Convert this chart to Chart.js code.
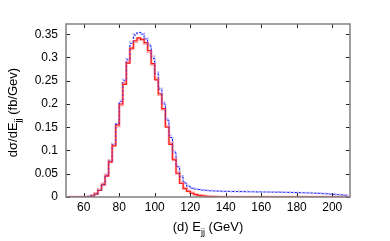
<!DOCTYPE html>
<html><head><meta charset="utf-8">
<script src="https://cdn.jsdelivr.net/npm/chart.js@4"></script>
<style>html,body{margin:0;padding:0;background:#fff}#wrap{width:390px;height:241px}</style>
</head><body><div id="wrap"><canvas id="c" width="390" height="241"></canvas></div>
<script>
const energies = [51,53,55,57,59,61,63,65,67,69,71,73,75,77,79,81,83,85,87,89,91,93,95,97,99,101,103,105,107,109,111,113,115,117,119,121,123,125,127,129,131,133,135,137,139,141,143,145,147,149,151,153,155,157,159,161,163,165,167,169,171,173,175,177,179,181,183,185,187,189,191,193,195,197,199,201,203,205,207,209];
const redSolid = [0,0,0,0,0,0,0.0005,0.002,0.006,0.014,0.026,0.045,0.075,0.11,0.155,0.2,0.242,0.288,0.32,0.336,0.342,0.339,0.332,0.315,0.287,0.252,0.222,0.19,0.15,0.113,0.08,0.05,0.029,0.018,0.012,0.008,0.005,0.0035,0.0025,0.0015,0.001,0.0007,0.0004,0,0,0,0,0,0,0,0,0,0,0,0,0,0,0,0,0,0,0,0,0,0,0,0,0,0,0,0,0,0,0,0,0,0,0,0,0];
const redLight = [0,0,0,0,0,0,0.001,0.003,0.008,0.016,0.028,0.048,0.078,0.112,0.152,0.198,0.245,0.29,0.318,0.334,0.34,0.338,0.33,0.312,0.285,0.255,0.22,0.188,0.152,0.116,0.082,0.052,0.031,0.019,0.013,0.009,0.006,0.004,0.003,0.002,0.0015,0.001,0.0006,0,0,0,0,0,0,0,0,0,0,0,0,0,0,0,0,0,0,0,0,0,0,0,0,0,0,0,0,0,0,0,0,0,0,0,0,0];
const blueDot = [0,0,0,0,0,0,0.0005,0.003,0.007,0.015,0.027,0.046,0.077,0.113,0.158,0.205,0.25,0.295,0.33,0.348,0.354,0.35,0.34,0.325,0.298,0.265,0.232,0.2,0.165,0.128,0.095,0.065,0.043,0.03,0.023,0.019,0.017,0.016,0.015,0.0142,0.0135,0.013,0.0128,0.0125,0.0122,0.012,0.012,0.0118,0.0117,0.0116,0.0115,0.0113,0.0112,0.011,0.011,0.0108,0.0107,0.0106,0.0105,0.0104,0.0103,0.0101,0.01,0.0098,0.0096,0.0094,0.0092,0.009,0.0088,0.0085,0.0082,0.0078,0.0073,0.0068,0.0062,0.0057,0.0052,0.0046,0.004,0.0033];
const blueLight = [0,0,0,0,0,0,0.001,0.003,0.008,0.016,0.029,0.048,0.079,0.115,0.16,0.207,0.252,0.297,0.333,0.35,0.352,0.352,0.342,0.328,0.302,0.268,0.236,0.204,0.168,0.132,0.098,0.068,0.045,0.032,0.024,0.02,0.018,0.016,0.0152,0.0145,0.0138,0.0133,0.013,0.0127,0.0124,0.0122,0.012,0.0119,0.0118,0.0117,0.0116,0.0114,0.0113,0.0111,0.011,0.0109,0.0108,0.0107,0.0106,0.0105,0.0104,0.0102,0.0101,0.0099,0.0097,0.0095,0.0093,0.0091,0.0089,0.0086,0.0083,0.0079,0.0074,0.0069,0.0063,0.0058,0.0053,0.0047,0.0041,0.0034];
const xTicks = [60,80,100,120,140,160,180,200];
const yTicks = [0,0.05,0.1,0.15,0.2,0.25,0.3,0.35];
const yTickLabels = ['0','0.05','0.1','0.15','0.2','0.25','0.3','0.35'];

function pts(vals){ return vals.map((v,i)=>({x:energies[i], y:v})); }

const FONT = '"Liberation Sans", Arial, sans-serif';

const framePlugin = {
  id:'frame',
  afterDatasetsDraw(chart){
    const {ctx, chartArea:a, scales:{x, y}} = chart;
    ctx.save();
    ctx.strokeStyle = '#222';
    ctx.lineWidth = 1;
    ctx.beginPath();
    xTicks.forEach(v=>{
      const px = Math.round(x.getPixelForValue(v))+0.5;
      ctx.moveTo(px, a.bottom); ctx.lineTo(px, a.bottom-4);
      ctx.moveTo(px, a.top); ctx.lineTo(px, a.top+4);
    });
    yTicks.forEach(v=>{
      const py = Math.round(y.getPixelForValue(v))+0.5;
      ctx.moveTo(a.left, py); ctx.lineTo(a.left+4, py);
      ctx.moveTo(a.right, py); ctx.lineTo(a.right-4, py);
    });
    ctx.stroke();
    ctx.strokeStyle = '#808080';
    ctx.lineWidth = 1.5;
    ctx.strokeRect(a.left, a.top, a.right-a.left, a.bottom-a.top);
    ctx.fillStyle = '#000';
    ctx.font = '13px ' + FONT;
    const cx = (a.left + a.right)/2;
    const base = 231;
    const p1 = '(d) E', sub = 'jj', p2 = ' (GeV)';
    const w1 = ctx.measureText(p1).width;
    ctx.font = '9px ' + FONT; const ws = ctx.measureText(sub).width;
    ctx.font = '13px ' + FONT; const w2 = ctx.measureText(p2).width;
    let sx = cx - (w1+ws+w2)/2;
    ctx.textBaseline = 'alphabetic'; ctx.textAlign='left';
    ctx.fillText(p1, sx, base); sx += w1;
    ctx.font = '9px ' + FONT; ctx.fillText(sub, sx, base+4); sx += ws;
    ctx.font = '13px ' + FONT; ctx.fillText(p2, sx, base);
    ctx.translate(17, (a.top+a.bottom)/2 + 2);
    ctx.rotate(-Math.PI/2);
    const q1 = 'd\u03C3/dE', q2 = ' (fb/Gev)';
    const v1 = ctx.measureText(q1).width;
    ctx.font = '9px ' + FONT; const vs = ctx.measureText(sub).width;
    ctx.font = '13px ' + FONT; const v2 = ctx.measureText(q2).width;
    let sy = -(v1+vs+v2)/2;
    ctx.fillText(q1, sy, 0); sy += v1;
    ctx.font = '9px ' + FONT; ctx.fillText(sub, sy, 4); sy += vs;
    ctx.font = '13px ' + FONT; ctx.fillText(q2, sy, 0);
    ctx.restore();
  }
};

new Chart(document.getElementById('c'), {
  type:'line',
  data:{ datasets:[
    {data:pts(redLight), borderColor:'rgba(255,70,70,0.45)', borderWidth:2.5, stepped:'middle', pointRadius:0, fill:false},
    {data:pts(blueLight), borderColor:'rgba(80,80,255,0.4)', borderWidth:2, borderDash:[2,2], stepped:'middle', pointRadius:0, fill:false},
    {data:pts(blueDot), borderColor:'#0000ff', borderWidth:1, borderDash:[2,2], stepped:'middle', pointRadius:0, fill:false},
    {data:pts(redSolid), borderColor:'#ff0000', borderWidth:1.2, stepped:'middle', pointRadius:0, fill:false}
  ]},
  options:{
    responsive:false, animation:false,
    layout:{padding:{left:0, right:40, top:24, bottom:0}},
    plugins:{legend:{display:false}, tooltip:{enabled:false}},
    scales:{
      x:{type:'linear', min:50, max:210,
        afterBuildTicks(s){ s.ticks = xTicks.map(v=>({value:v})); },
        afterFit(s){ s.height = 44; },
        grid:{display:false, drawTicks:false}, border:{display:false},
        ticks:{padding:3, color:'#000', font:{family:FONT, size:12}, maxRotation:0}
      },
      y:{type:'linear', min:0, max:0.372,
        afterBuildTicks(s){ s.ticks = yTicks.map(v=>({value:v})); },
        afterFit(s){ s.width = 66; },
        grid:{display:false, drawTicks:false}, border:{display:false},
        ticks:{padding:8, color:'#000', font:{family:FONT, size:12},
          callback:(v)=>{ const i = yTicks.findIndex(t=>Math.abs(t-v)<1e-9); return i>=0 ? yTickLabels[i] : ''; }}
      }
    }
  },
  plugins:[framePlugin]
});
</script></body></html>
